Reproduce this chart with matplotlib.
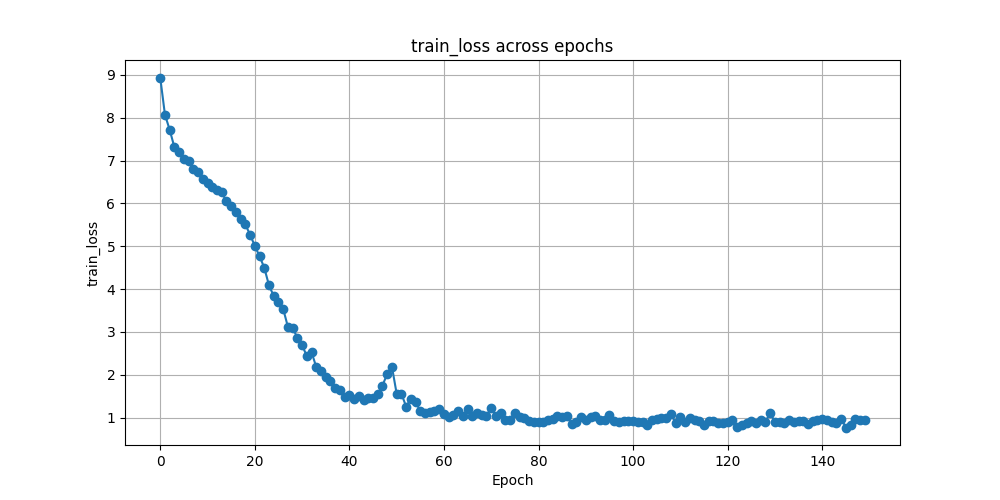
import matplotlib
matplotlib.use("Agg")
import matplotlib.pyplot as plt

epochs = list(range(150))
train_loss = [
    8.94, 8.07, 7.72, 7.31, 7.20, 7.04, 6.99, 6.80, 6.74, 6.57,
    6.48, 6.39, 6.32, 6.26, 6.05, 5.94, 5.80, 5.64, 5.51, 5.27,
    5.01, 4.77, 4.50, 4.09, 3.84, 3.70, 3.54, 3.12, 3.09, 2.87,
    2.69, 2.44, 2.53, 2.18, 2.10, 1.94, 1.85, 1.69, 1.65, 1.48,
    1.52, 1.44, 1.50, 1.42, 1.47, 1.46, 1.55, 1.75, 2.02, 2.19,
    1.56, 1.56, 1.26, 1.44, 1.36, 1.16, 1.10, 1.13, 1.16, 1.20,
    1.08, 1.02, 1.07, 1.15, 1.03, 1.21, 1.05, 1.11, 1.07, 1.05,
    1.23, 1.03, 1.11, 0.95, 0.95, 1.12, 1.01, 0.99, 0.93, 0.91,
    0.91, 0.91, 0.95, 0.97, 1.03, 1.02, 1.03, 0.85, 0.91, 1.01,
    0.94, 1.01, 1.03, 0.94, 0.95, 1.06, 0.92, 0.89, 0.93, 0.93,
    0.92, 0.91, 0.90, 0.84, 0.94, 0.97, 1.00, 1.00, 1.08, 0.88,
    1.02, 0.91, 1.00, 0.95, 0.93, 0.84, 0.93, 0.92, 0.88, 0.88,
    0.91, 0.95, 0.79, 0.83, 0.87, 0.93, 0.88, 0.94, 0.90, 1.12,
    0.89, 0.91, 0.88, 0.94, 0.90, 0.93, 0.92, 0.86, 0.93, 0.95,
    0.96, 0.95, 0.89, 0.88, 0.98, 0.77, 0.83, 0.98, 0.95, 0.95,
]

fig, ax = plt.subplots(figsize=(10, 5), dpi=100)
ax.plot(epochs, train_loss, marker="o")
ax.set_title("train_loss across epochs")
ax.set_xlabel("Epoch")
ax.set_ylabel("train_loss")
ax.grid(True)
fig.savefig("out.png")
